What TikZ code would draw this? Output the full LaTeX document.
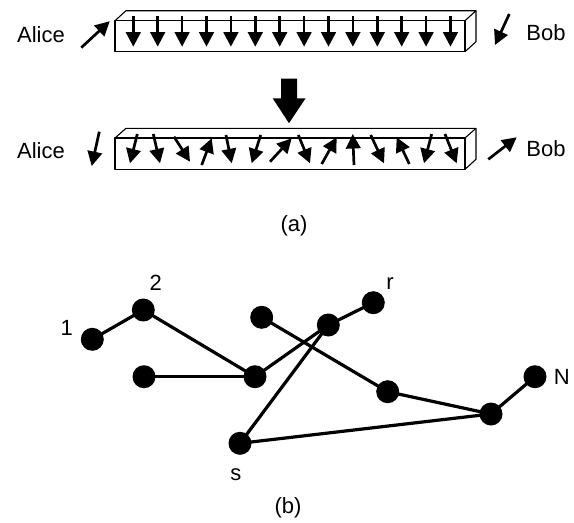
\documentclass[tikz,border=0pt]{standalone}
\usepackage{fontspec}
\setmainfont{Liberation Sans}
\usetikzlibrary{arrows.meta}
\begin{document}
\begin{tikzpicture}[x=1pt,y=-1pt,
  lbl/.style={font=\fontsize{22}{26}\selectfont, inner sep=0pt},
  spin/.style={line width=2.7pt, -{Triangle[length=14.5pt,width=14.5pt]}},
  boxline/.style={line width=1.1pt, line join=round},
  dot/.style={circle, fill=black, minimum size=23pt, inner sep=0pt},
  edge/.style={line width=3.2pt}]
\useasboundingbox (0,0) rectangle (574,523);

% ---------- (a) top bar ----------
\draw[boxline] (115,20.7) rectangle (465,51.7);
\draw[boxline] (115,20.7) -- (126,10.7) -- (476,10.7) -- (465,20.7);
\draw[boxline] (476,10.7) -- (476,41.7) -- (465,51.7);
\foreach \i in {0,...,13}
  \draw[spin] ({133.3+24.4*\i},16) -- ({133.3+24.4*\i},46.7);

\node[lbl] (alice1) at (41,35) {Alice};
\node[lbl] (bob1) at (546,33) {Bob};
\draw[spin] (81.3,47.6) -- (109.8,21.2);
\draw[spin] (509.3,14) -- (495,45);

% big arrow
\fill (281,78.7) -- (297,78.7) -- (297,98.3) -- (305.6,98.3) -- (289,123.2)
      -- (272.7,98.3) -- (281,98.3) -- cycle;

% ---------- (a) bottom bar ----------
\draw[boxline] (115,138) rectangle (465,169.3);
\draw[boxline] (115,138) -- (126,128.3) -- (476,128.3) -- (465,138);
\draw[boxline] (476,128.3) -- (476,159.3) -- (465,169.3);
\foreach \xa/\ya/\xb/\yb in {
  137.3/134/130/163.3,
  153.3/134/160/163.3,
  174/136.7/190/161.7,
  201.7/165/211.7/138.3,
  226/135/231.7/163.3,
  260.7/135/251.7/163.3,
  270/161.7/291.7/138.3,
  298.3/135/310/163.3,
  321.7/164/336.7/137.3,
  354/165/352.7/134,
  370.7/135/384/163.3,
  409.3/164/396.7/137.3,
  431.7/134/424/163.3,
  445/134/456.7/163.3}
  \draw[spin] (\xa,\ya) -- (\xb,\yb);

\node[lbl] (alice2) at (41,151) {Alice};
\node[lbl] (bob2) at (546,149) {Bob};
\draw[spin] (99.3,131.7) -- (91.7,166);
\draw[spin] (488.3,159.3) -- (516.7,137.3);

\node[lbl] (capa) at (294,226) {(a)};

% ---------- (b) graph ----------
\node[dot] (n1) at (92.3,339.3) {};
\node[dot] (n2) at (143.3,310) {};
\node[dot] (n3) at (144,376.7) {};
\node[dot] (n4) at (255,376.7) {};
\node[dot] (s) at (240,443.3) {};
\node[dot] (n5) at (261.7,317.3) {};
\node[dot] (n6) at (328.3,325) {};
\node[dot] (r) at (373.3,302.7) {};
\node[dot] (n7) at (387.7,391.7) {};
\node[dot] (n8) at (491,414) {};
\node[dot] (N) at (535,376.7) {};

\draw[edge] (n1.center) -- (n2.center);
\draw[edge] (n2.center) -- (n4.center);
\draw[edge] (n3.center) -- (n4.center);
\draw[edge] (n4.center) -- (n6.center);
\draw[edge] (n6.center) -- (r.center);
\draw[edge] (n6.center) -- (s.center);
\draw[edge] (s.center) -- (n8.center);
\draw[edge] (n5.center) -- (n7.center);
\draw[edge] (n7.center) -- (n8.center);
\draw[edge] (n8.center) -- (N.center);

\node[lbl] (l1) at (66.7,327.5) {1};
\node[lbl] (l2) at (155.8,283.3) {2};
\node[lbl] (lr) at (390,283.3) {r};
\node[lbl] (lN) at (561.7,376.7) {N};
\node[lbl] (ls) at (235.8,475) {s};

\node[lbl] (capb) at (288,508) {(b)};
\end{tikzpicture}
\end{document}
